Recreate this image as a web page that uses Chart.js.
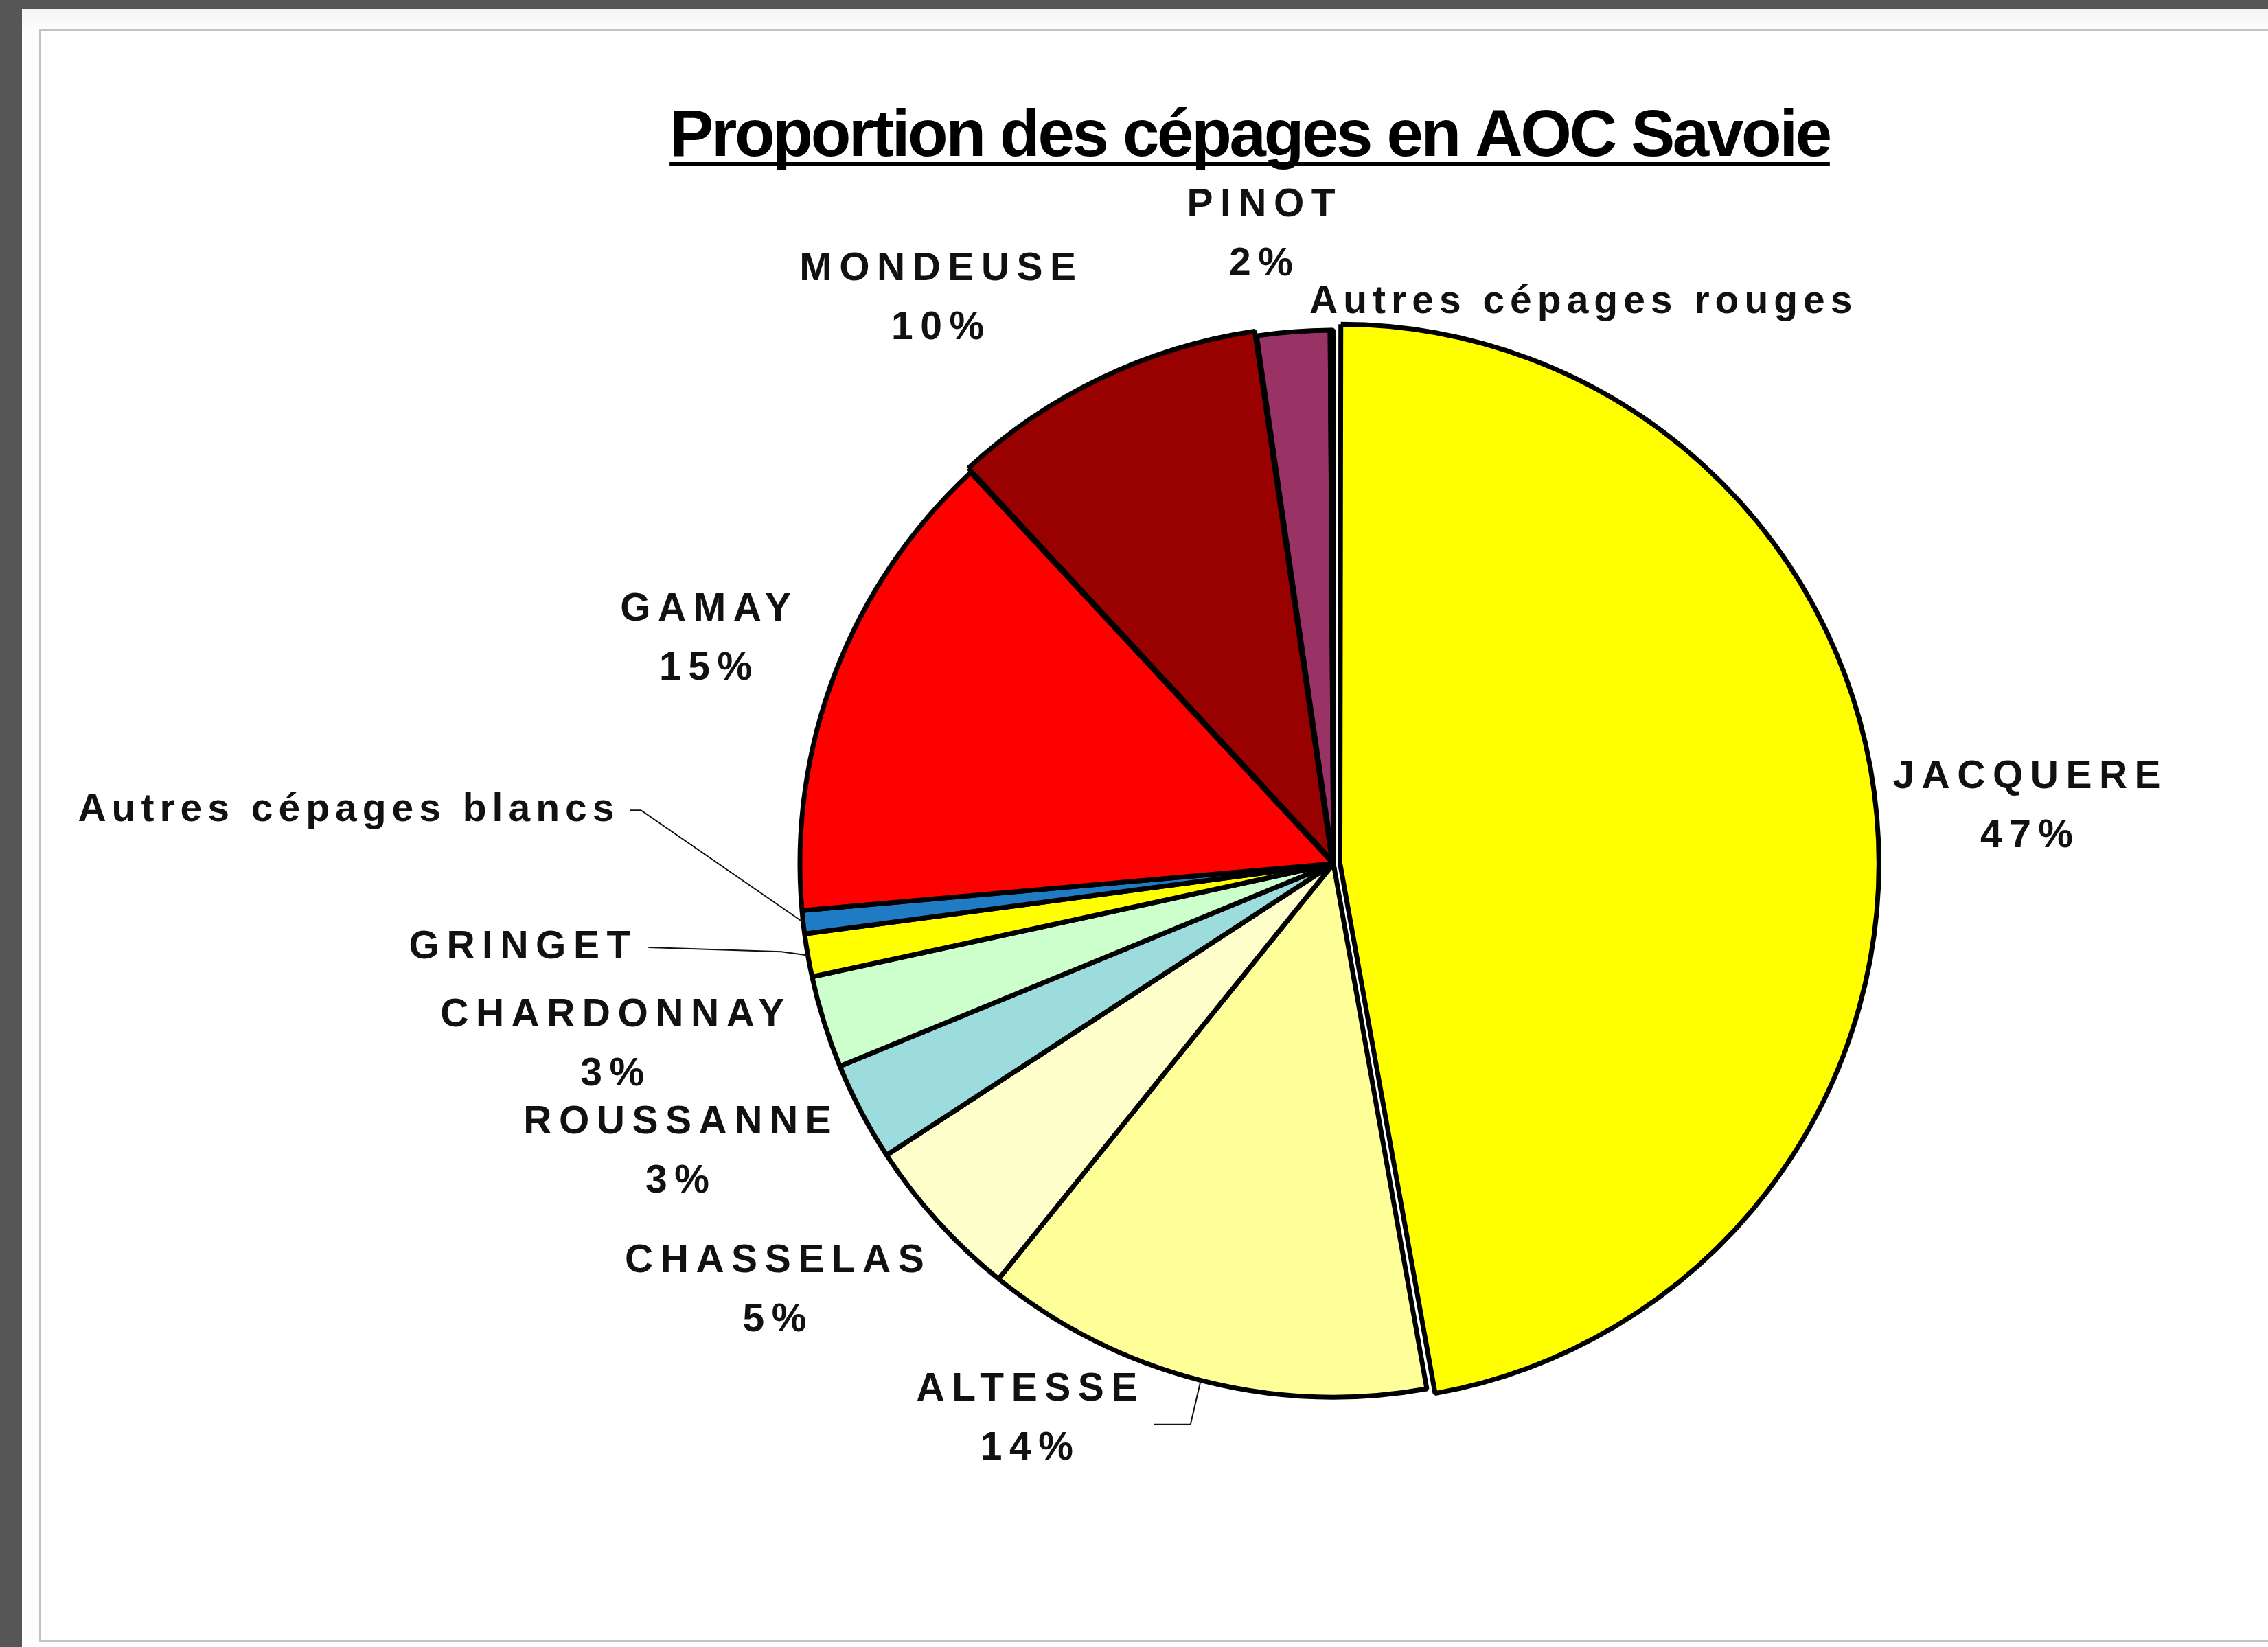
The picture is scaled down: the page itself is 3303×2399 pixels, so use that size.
<!DOCTYPE html>
<html>
<head>
<meta charset="utf-8">
<script src="https://cdn.jsdelivr.net/npm/chart.js@4.4.1/dist/chart.umd.min.js"></script>
<style>
  body { margin: 0; width: 3303px; height: 2399px; overflow: hidden; background: #565656; position: relative; }
  #fond { position: absolute; left: 32px; top: 13px; width: 3271px; height: 2386px; background: linear-gradient(#f4f4f4, #fdfdfd 30px, #fdfdfd); }
  #cadre { position: absolute; left: 57px; top: 42px; width: 3300px; height: 2344px; border: 3px solid #c2c2c2; background: #fff; }
  #graphique { position: absolute; left: 0; top: 0; }
</style>
</head>
<body>
<div id="fond"></div>
<div id="cadre"></div>
<canvas id="graphique" width="3303" height="2399"></canvas>
<script>
// cépages, dans l'ordre des secteurs (sens horaire depuis midi)
const cepages = ['JACQUERE', 'ALTESSE', 'CHASSELAS', 'ROUSSANNE', 'CHARDONNAY', 'GRINGET',
  'Autres cépages blancs', 'GAMAY', 'MONDEUSE', 'PINOT', 'Autres cépages rouges'];
const proportions = [47.2, 13.6, 5.0, 3.0, 2.8, 1.3, 0.7, 14.5, 9.6, 2.2, 0.1];
const afficherPourcent = [true, true, true, true, true, false, false, true, true, true, false];
const couleurs = ['#ffff00', '#ffff99', '#ffffcc', '#9cdcdc', '#ccffcc', '#ffff00',
  '#1f7cc4', '#ff0000', '#990000', '#993366', '#ffffff'];
// chart.js divise l'offset par 4 (et un peu plus pour les grands secteurs)
const decalages = [38, 0, 0, 0, 0, 0, 0, 0, 20, 0, 0];

// position des étiquettes, en rayons par rapport au centre du camembert
const posEtiquettes = [
  { dx: 1.306, dy: -0.107, align: 'center' },
  { dx: -0.568, dy: 1.042, align: 'center', trait: [[-0.336, 1.051], [-0.268, 1.051]] },
  { dx: -1.041, dy: 0.801, align: 'center' },
  { dx: -1.223, dy: 0.541, align: 'center' },
  { dx: -1.345, dy: 0.340, align: 'center' },
  { dx: -1.304, dy: 0.157, align: 'right', trait: [[-1.284, 0.157], [-1.035, 0.165]] },
  { dx: -1.338, dy: -0.100, align: 'right', ls: 8, trait: [[-1.318, -0.100], [-1.298, -0.100]] },
  { dx: -1.170, dy: -0.421, align: 'center' },
  { dx: -0.735, dy: -1.059, align: 'center' },
  { dx: -0.129, dy: -1.178, align: 'center' },
  { dx: -0.045, dy: -1.053, align: 'left', ls: 8 }
];

const titre = 'Proportion des cépages en AOC Savoie';

const etiquettes = {
  id: 'etiquettes',
  afterDatasetsDraw(chart) {
    const ctx = chart.ctx;
    const meta = chart.getDatasetMeta(0);
    const cx = meta.data[0].x, cy = meta.data[0].y, r = meta.data[0].outerRadius;
    ctx.save();
    ctx.fillStyle = '#111';
    ctx.strokeStyle = '#111';
    ctx.textBaseline = 'middle';
    ctx.font = "bold 57px 'Liberation Sans', Arial, sans-serif";
    meta.data.forEach((arc, i) => {
      const p = posEtiquettes[i];
      const x = cx + p.dx * r, y = cy + p.dy * r;
      ctx.letterSpacing = (p.ls || 10.5) + 'px';
      ctx.textAlign = p.align;
      const pct = Math.round(proportions[i]) + '%';
      if (afficherPourcent[i]) {
        ctx.fillText(cepages[i], x, y - 43);
        ctx.fillText(pct, x, y + 43);
      } else {
        ctx.fillText(cepages[i], x, y);
      }
      if (p.trait) {
        const mid = (arc.startAngle + arc.endAngle) / 2;
        ctx.lineWidth = 2;
        ctx.beginPath();
        ctx.moveTo(cx + p.trait[0][0] * r, cy + p.trait[0][1] * r);
        ctx.lineTo(cx + p.trait[1][0] * r, cy + p.trait[1][1] * r);
        ctx.lineTo(cx + Math.cos(mid) * r, cy + Math.sin(mid) * r);
        ctx.stroke();
      }
    });
    // titre souligné
    ctx.letterSpacing = '-3.3px';
    ctx.font = "bold 96px 'Liberation Sans', Arial, sans-serif";
    ctx.textAlign = 'center';
    ctx.textBaseline = 'alphabetic';
    ctx.fillStyle = '#000';
    const tx = 1820, ty = 227;
    const w = ctx.measureText(titre).width;
    ctx.fillText(titre, tx, ty);
    ctx.fillRect(tx - w / 2, ty + 9, w, 6);
    ctx.restore();
  }
};

new Chart(document.getElementById('graphique'), {
  type: 'pie',
  data: {
    labels: cepages,
    datasets: [{
      data: proportions,
      backgroundColor: couleurs,
      borderColor: '#000',
      borderWidth: 7,
      offset: decalages,
      hoverOffset: 0,
      radius: 777
    }]
  },
  options: {
    responsive: false,
    animation: false,
    events: [],
    layout: { padding: { left: 842, right: 261, top: 258, bottom: 141 } },
    plugins: {
      legend: { display: false },
      tooltip: { enabled: false }
    }
  },
  plugins: [etiquettes]
});
</script>
</body>
</html>
